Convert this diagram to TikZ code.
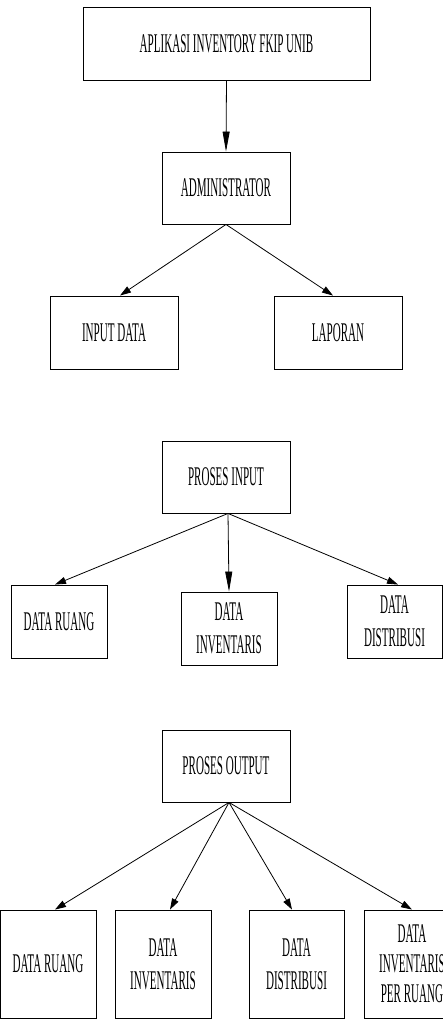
\documentclass[tikz,border=0pt]{standalone}
\usepackage{fontspec}
\setmainfont{Liberation Serif}[FakeStretch=0.41]
\usetikzlibrary{arrows.meta}
\begin{document}
\begin{tikzpicture}[x=1pt,y=-1pt,
  box/.style={draw=black,line width=0.9pt,inner sep=0pt,align=center,
    font=\fontsize{27}{33}\selectfont},
  conn/.style={line width=0.8pt,-{Triangle[length=11pt,width=7pt]}},
  vconn/.style={line width=0.8pt,-{Triangle[length=20pt,width=7pt]}}]
\useasboundingbox (0,0) rectangle (443,1019);
% level 1
\node[box,minimum width=287pt,minimum height=73pt] (app) at (226.5,43.5) {APLIKASI INVENTORY FKIP UNIB};
\node[box,minimum width=128pt,minimum height=72pt] (admin) at (226,188) {ADMINISTRATOR};
\node[box,minimum width=128pt,minimum height=73pt] (input) at (114,332.5) {INPUT DATA};
\node[box,minimum width=128pt,minimum height=73pt] (lap) at (338,332.5) {LAPORAN};
\draw[vconn] (app.south) -- (admin.north);
\draw[conn] (admin.south) -- ([xshift=6pt]input.north);
\draw[conn] (admin.south) -- ([xshift=-5pt]lap.north);
% proses input
\node[box,minimum width=128pt,minimum height=72pt] (pin) at (226,477) {PROSES INPUT};
\node[box,minimum width=96pt,minimum height=73pt] (r1) at (59,621.5) {DATA RUANG};
\node[box,minimum width=96pt,minimum height=73pt] (i1) at (229,628.5) {DATA\\INVENTARIS};
\node[box,minimum width=95pt,minimum height=73pt] (d1) at (394.5,621.5) {DATA\\DISTRIBUSI};
\draw[conn] ([xshift=2pt]pin.south) -- ([xshift=-4pt]r1.north);
\draw[vconn] ([xshift=2pt]pin.south) -- (i1.north);
\draw[conn] ([xshift=2pt]pin.south) -- ([xshift=3.5pt]d1.north);
% proses output
\node[box,minimum width=128pt,minimum height=72pt] (pout) at (226,766) {PROSES OUTPUT};
\node[box,minimum width=96pt,minimum height=108pt] (r2) at (48,964) {DATA RUANG};
\node[box,minimum width=96pt,minimum height=108pt] (i2) at (163,964) {DATA\\INVENTARIS};
\node[box,minimum width=95pt,minimum height=108pt] (d2) at (296.5,964) {DATA\\DISTRIBUSI};
\node[box,minimum width=96pt,minimum height=108pt,font=\fontsize{27}{30}\selectfont] (p2) at (412,964) {DATA\\INVENTARIS\\PER RUANG};
\draw[conn] ([xshift=3pt]pout.south) -- ([xshift=7pt]r2.north);
\draw[conn] ([xshift=3pt]pout.south) -- ([xshift=7pt]i2.north);
\draw[conn] ([xshift=3pt]pout.south) -- ([xshift=-4.5pt]d2.north);
\draw[conn] ([xshift=3pt]pout.south) -- (p2.north);
\end{tikzpicture}
\end{document}
